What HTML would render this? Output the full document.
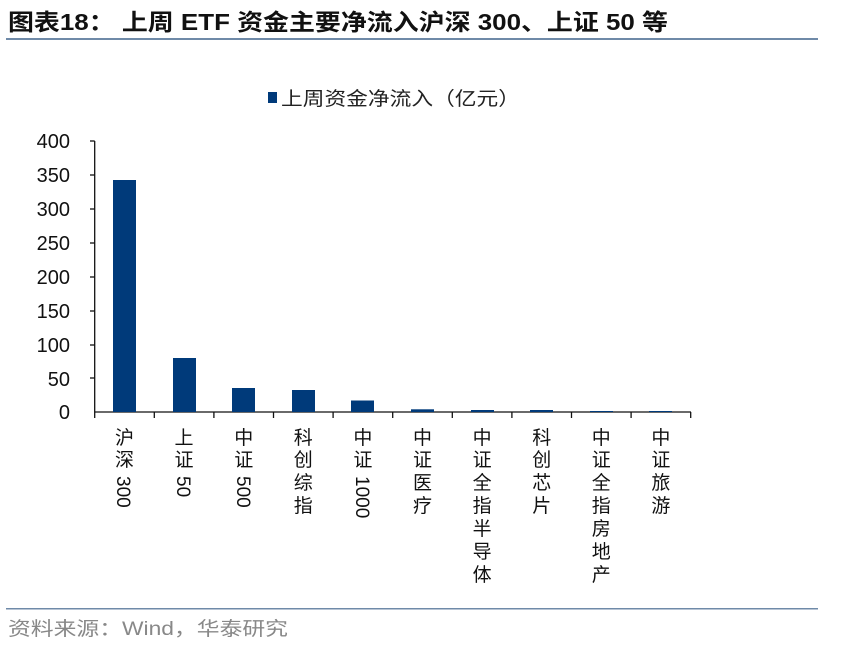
<!DOCTYPE html>
<html><head><meta charset="utf-8"><style>
html,body{margin:0;padding:0;background:#fff;}
body{width:841px;height:651px;overflow:hidden;}
text{font-family:"Liberation Sans","Noto Sans CJK SC",sans-serif;}
</style></head><body>
<svg width="841" height="651" xmlns="http://www.w3.org/2000/svg">
<text x="8" y="30" font-size="23" font-weight="bold" fill="#111" textLength="660" lengthAdjust="spacingAndGlyphs">图表18：  上周 ETF 资金主要净流入沪深 300、上证 50 等</text>
<rect x="6" y="38" width="812" height="2" fill="#6f8aa8"/>
<rect x="268" y="92" width="9" height="11" fill="#003a7a"/>
<text x="281" y="105" font-size="19" fill="#222" textLength="239" lengthAdjust="spacingAndGlyphs">上周资金净流入（亿元）</text>
<g font-size="20" fill="#111" text-anchor="end">
<text x="70" y="148">400</text><text x="70" y="182">350</text><text x="70" y="216">300</text>
<text x="70" y="250">250</text><text x="70" y="284">200</text><text x="70" y="318">150</text>
<text x="70" y="352">100</text><text x="70" y="386">50</text><text x="70" y="419">0</text>
</g>
<g stroke="#111" stroke-width="1.3">
<line x1="94.7" y1="141" x2="94.7" y2="412"/>
<line x1="90" y1="141" x2="94.7" y2="141"/><line x1="90" y1="175" x2="94.7" y2="175"/>
<line x1="90" y1="209" x2="94.7" y2="209"/><line x1="90" y1="243" x2="94.7" y2="243"/>
<line x1="90" y1="277" x2="94.7" y2="277"/><line x1="90" y1="311" x2="94.7" y2="311"/>
<line x1="90" y1="345" x2="94.7" y2="345"/><line x1="90" y1="378" x2="94.7" y2="378"/>
<line x1="94.7" y1="412" x2="691" y2="412"/>
</g>
<g stroke="#111" stroke-width="1.3">
<line x1="94.7" y1="412" x2="94.7" y2="418"/><line x1="154.3" y1="412" x2="154.3" y2="418"/>
<line x1="213.9" y1="412" x2="213.9" y2="418"/><line x1="273.5" y1="412" x2="273.5" y2="418"/>
<line x1="333.1" y1="412" x2="333.1" y2="418"/><line x1="392.7" y1="412" x2="392.7" y2="418"/>
<line x1="452.3" y1="412" x2="452.3" y2="418"/><line x1="511.9" y1="412" x2="511.9" y2="418"/>
<line x1="571.5" y1="412" x2="571.5" y2="418"/><line x1="631.1" y1="412" x2="631.1" y2="418"/>
<line x1="690.7" y1="412" x2="690.7" y2="418"/>
</g>
<g fill="#003a7a">
<rect x="113" y="180" width="23" height="232"/>
<rect x="173" y="358" width="23" height="54"/>
<rect x="232" y="388" width="23" height="24"/>
<rect x="292" y="390" width="23" height="22"/>
<rect x="351" y="400.5" width="23" height="11.5"/>
<rect x="411" y="409.3" width="23" height="2.7"/>
<rect x="471" y="410" width="23" height="2"/>
<rect x="530" y="410" width="23" height="2"/>
<rect x="590" y="411" width="23" height="1"/>
<rect x="649" y="411" width="23" height="1"/>
</g>
<g font-size="19" fill="#111" text-anchor="middle">
<text x="124.5" y="444">沪</text><text x="124.5" y="466">深</text>
<text transform="translate(117,476) rotate(90)" text-anchor="start">300</text>
<text x="184" y="444">上</text><text x="184" y="466">证</text>
<text transform="translate(177,476) rotate(90)" text-anchor="start">50</text>
<text x="243.7" y="444">中</text><text x="243.7" y="466">证</text>
<text transform="translate(237,476) rotate(90)" text-anchor="start">500</text>
<text x="303.3" y="444">科</text><text x="303.3" y="466">创</text><text x="303.3" y="489">综</text><text x="303.3" y="512">指</text>
<text x="362.9" y="444">中</text><text x="362.9" y="466">证</text>
<text transform="translate(356,476) rotate(90)" text-anchor="start">1000</text>
<text x="422.5" y="444">中</text><text x="422.5" y="466">证</text><text x="422.5" y="489">医</text><text x="422.5" y="512">疗</text>
<text x="482.1" y="444">中</text><text x="482.1" y="466">证</text><text x="482.1" y="489">全</text><text x="482.1" y="512">指</text><text x="482.1" y="535">半</text><text x="482.1" y="558">导</text><text x="482.1" y="581">体</text>
<text x="541.7" y="444">科</text><text x="541.7" y="466">创</text><text x="541.7" y="489">芯</text><text x="541.7" y="512">片</text>
<text x="601.3" y="444">中</text><text x="601.3" y="466">证</text><text x="601.3" y="489">全</text><text x="601.3" y="512">指</text><text x="601.3" y="535">房</text><text x="601.3" y="558">地</text><text x="601.3" y="581">产</text>
<text x="660.9" y="444">中</text><text x="660.9" y="466">证</text><text x="660.9" y="489">旅</text><text x="660.9" y="512">游</text>
</g>
<rect x="6" y="608" width="812" height="1.5" fill="#6f8aa8"/>
<text x="8" y="635" font-size="19" fill="#888" textLength="280" lengthAdjust="spacingAndGlyphs">资料来源：Wind，华泰研究</text>
</svg>
</body></html>
